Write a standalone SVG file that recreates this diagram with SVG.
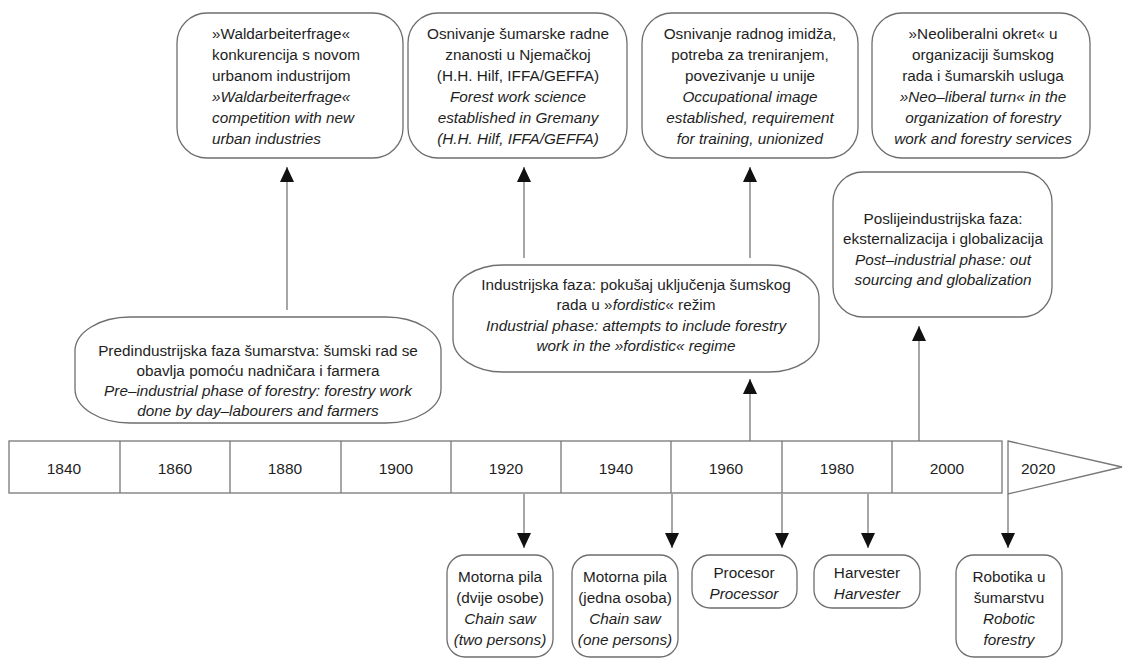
<svg xmlns="http://www.w3.org/2000/svg" width="1123" height="658" viewBox="0 0 1123 658">
<style>
.box{fill:#fff;stroke:#6e6e6e;stroke-width:1.3}
.t{font-family:"Liberation Sans",Arial,sans-serif;font-size:15.3px;fill:#1e1e1e}
.c{text-anchor:middle}
.i{font-style:italic}
.yr{font-family:"Liberation Sans",Arial,sans-serif;font-size:15.5px;fill:#1e1e1e;text-anchor:middle}
.ln{stroke:#777;stroke-width:1.3;fill:none}
.arr{stroke:#777;stroke-width:1.3;fill:none;marker-end:url(#ah)}
</style>
<defs>
<marker id="ah" markerUnits="userSpaceOnUse" markerWidth="16" markerHeight="14" refX="15" refY="7" orient="auto">
<path d="M0,0 L15,7 L0,14 Z" fill="#111"/>
</marker>
</defs>
<rect width="1123" height="658" fill="#fff"/>

<g id="connectors">
<line class="arr" x1="287" y1="310" x2="287" y2="167"/>
<line class="arr" x1="524" y1="258" x2="524" y2="167"/>
<line class="arr" x1="750" y1="258" x2="750" y2="167"/>
<line class="arr" x1="750" y1="441" x2="750" y2="379"/>
<line class="arr" x1="919" y1="441" x2="919" y2="326"/>
<line class="arr" x1="524" y1="494" x2="524" y2="548"/>
<line class="arr" x1="672" y1="494" x2="672" y2="548"/>
<line class="arr" x1="782" y1="494" x2="782" y2="548"/>
<line class="arr" x1="868" y1="494" x2="868" y2="548"/>
<line class="arr" x1="1008" y1="494" x2="1008" y2="548"/>
</g>

<g id="timeline">
<rect class="ln" x="9" y="441" width="993" height="52"/>
<line class="ln" x1="120" y1="441" x2="120" y2="493"/>
<line class="ln" x1="230" y1="441" x2="230" y2="493"/>
<line class="ln" x1="341" y1="441" x2="341" y2="493"/>
<line class="ln" x1="451" y1="441" x2="451" y2="493"/>
<line class="ln" x1="561" y1="441" x2="561" y2="493"/>
<line class="ln" x1="671" y1="441" x2="671" y2="493"/>
<line class="ln" x1="782" y1="441" x2="782" y2="493"/>
<line class="ln" x1="892" y1="441" x2="892" y2="493"/>
<polygon class="ln" points="1008,441 1122,467 1008,494"/>
<text class="yr" x="64" y="474">1840</text>
<text class="yr" x="175" y="474">1860</text>
<text class="yr" x="285" y="474">1880</text>
<text class="yr" x="396" y="474">1900</text>
<text class="yr" x="506" y="474">1920</text>
<text class="yr" x="616" y="474">1940</text>
<text class="yr" x="726" y="474">1960</text>
<text class="yr" x="837" y="474">1980</text>
<text class="yr" x="947" y="474">2000</text>
<text class="yr" x="1021" y="474" style="text-anchor:start">2020</text>
</g>

<g id="top1">
<rect class="box" x="177" y="13" width="226" height="145" rx="30"/>
<text class="t" x="212" y="39">»Waldarbeiterfrage«</text>
<text class="t" x="212" y="60">konkurencija s novom</text>
<text class="t" x="212" y="81">urbanom industrijom</text>
<text class="t i" x="212" y="102">»Waldarbeiterfrage«</text>
<text class="t i" x="212" y="123">competition with new</text>
<text class="t i" x="212" y="144">urban industries</text>
</g>

<g id="top2">
<rect class="box" x="408" y="13" width="219" height="145" rx="30"/>
<text class="t c" x="518" y="39">Osnivanje šumarske radne</text>
<text class="t c" x="518" y="60">znanosti u Njemačkoj</text>
<text class="t c" x="518" y="81">(H.H. Hilf, IFFA/GEFFA)</text>
<text class="t c i" x="518" y="102">Forest work science</text>
<text class="t c i" x="518" y="123">established in Gremany</text>
<text class="t c i" x="518" y="144">(H.H. Hilf, IFFA/GEFFA)</text>
</g>

<g id="top3">
<rect class="box" x="642" y="13" width="216" height="145" rx="30"/>
<text class="t c" x="750" y="39">Osnivanje radnog imidža,</text>
<text class="t c" x="750" y="60">potreba za treniranjem,</text>
<text class="t c" x="750" y="81">povezivanje u unije</text>
<text class="t c i" x="750" y="102">Occupational image</text>
<text class="t c i" x="750" y="123">established, requirement</text>
<text class="t c i" x="750" y="144">for training, unionized</text>
</g>

<g id="top4">
<rect class="box" x="872" y="13" width="218" height="145" rx="30"/>
<text class="t c" x="983" y="39">»Neoliberalni okret« u</text>
<text class="t c" x="983" y="60">organizaciji šumskog</text>
<text class="t c" x="983" y="81">rada i šumarskih usluga</text>
<text class="t c i" x="983" y="102">»Neo–liberal turn« in the</text>
<text class="t c i" x="983" y="123">organization of forestry</text>
<text class="t c i" x="983" y="144">work and forestry services</text>
</g>

<g id="preindustrial">
<rect class="box" x="75" y="317" width="366" height="106" rx="55" ry="34"/>
<text class="t c" x="258" y="356">Predindustrijska faza šumarstva: šumski rad se</text>
<text class="t c" x="258" y="376">obavlja pomoću nadničara i farmera</text>
<text class="t c i" x="258" y="396">Pre–industrial phase of forestry: forestry work</text>
<text class="t c i" x="258" y="416">done by day–labourers and farmers</text>
</g>

<g id="industrial">
<rect class="box" x="453" y="265" width="366" height="107" rx="50" ry="33"/>
<text class="t c" x="636" y="290">Industrijska faza: pokušaj uključenja šumskog</text>
<text class="t c" x="636" y="310">rada u »<tspan class="i">fordistic</tspan>« režim</text>
<text class="t c i" x="636" y="331">Industrial phase: attempts to include forestry</text>
<text class="t c i" x="636" y="351">work in the »fordistic« regime</text>
</g>

<g id="postindustrial">
<rect class="box" x="833" y="172" width="219" height="145" rx="30"/>
<text class="t c" x="943" y="224">Poslijeindustrijska faza:</text>
<text class="t c" x="943" y="244">eksternalizacija i globalizacija</text>
<text class="t c i" x="943" y="265">Post–industrial phase: out</text>
<text class="t c i" x="943" y="285">sourcing and globalization</text>
</g>

<g id="chainsaw2">
<rect class="box" x="447" y="555" width="106" height="102" rx="18"/>
<text class="t c" x="500" y="582">Motorna pila</text>
<text class="t c" x="500" y="603">(dvije osobe)</text>
<text class="t c i" x="500" y="624">Chain saw</text>
<text class="t c i" x="500" y="645">(two persons)</text>
</g>

<g id="chainsaw1">
<rect class="box" x="572" y="555" width="106" height="102" rx="18"/>
<text class="t c" x="625" y="582">Motorna pila</text>
<text class="t c" x="625" y="603">(jedna osoba)</text>
<text class="t c i" x="625" y="624">Chain saw</text>
<text class="t c i" x="625" y="645">(one persons)</text>
</g>

<g id="processor">
<rect class="box" x="692" y="555" width="105" height="53" rx="18"/>
<text class="t c" x="744" y="578">Procesor</text>
<text class="t c i" x="744" y="599">Processor</text>
</g>

<g id="harvester">
<rect class="box" x="814" y="555" width="106" height="53" rx="18"/>
<text class="t c" x="867" y="578">Harvester</text>
<text class="t c i" x="867" y="599">Harvester</text>
</g>

<g id="robotics">
<rect class="box" x="956" y="555" width="106" height="102" rx="18"/>
<text class="t c" x="1009" y="582">Robotika u</text>
<text class="t c" x="1009" y="603">šumarstvu</text>
<text class="t c i" x="1009" y="624">Robotic</text>
<text class="t c i" x="1009" y="645">forestry</text>
</g>
</svg>
